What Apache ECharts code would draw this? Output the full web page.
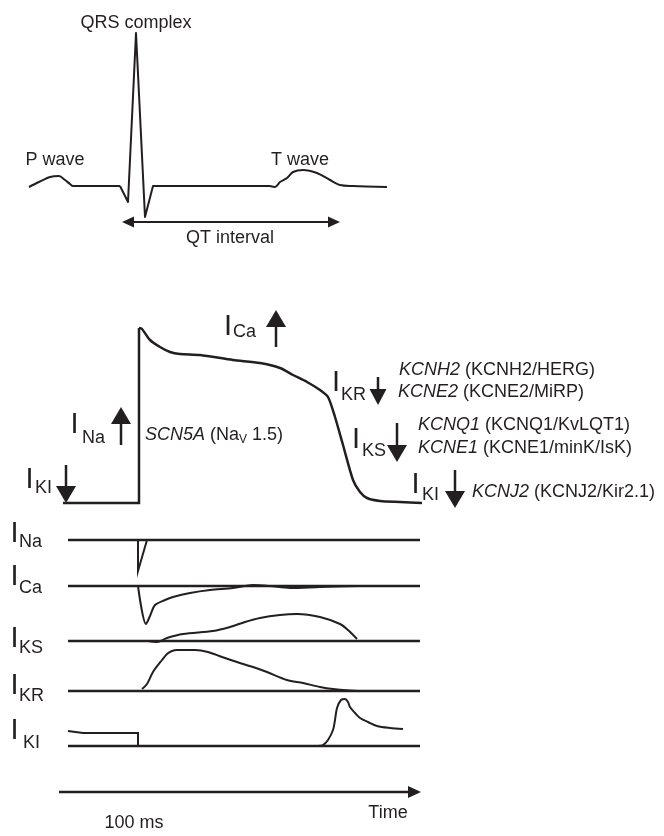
<!DOCTYPE html>
<html><head><meta charset="utf-8">
<script src="https://cdn.jsdelivr.net/npm/echarts@6/dist/echarts.min.js"></script>
<style>html,body{margin:0;padding:0;background:#fff}#c{width:664px;height:836px}</style>
</head><body><div id="c"></div>
<script>
// ---------------- DATA ----------------
// ECG trace: [time unit, amplitude unit] (baseline = 0)
const ecgP   = [[0,-1],[10,4],[21,9],[30,10],[36,6],[41,2],[44,0],[91,0]];
const ecgQRS = [[91,0],[99,-16],[107,153],[116,-31],[124,0],[241,0]];
const ecgT   = [[241,0],[246,-1],[251,4],[258,8],[264,14],[274,16],[288,13],[301,6],[311,1],[324,0],[358,-1]];

// Ventricular action potential: [time, amplitude above resting level]
const apUpstroke = [[0,0],[76,0],[76,175]];
const apRepol = [[76,175],[79,174],[87,163],[97,156],[107,151],[117,149],[137,148],[170,143],[197,140],
  [217,135],[230,128],[244,121],[257,113],[265,106],[272,86],[280,58],[290,23],[297,11],[304,5],
  [317,2],[337,1],[359,0]];

// Ionic currents (baseline = 0, outward positive, inward negative)
const currentSpan = [5, 357];
const currentNames = ['Na','Ca','KS','KR','KI'];
const iNa = [[75,0],[75,-31],[84,0]];
const iCa = [[75,0],[83,-38],[87,-30],[92,-19],[102,-14],[110,-11],[127,-7],[147,-4],[170,-2],[190,1],
  [207,0],[227,-2],[257,-1],[295,0]];
const iKs = [[85,0],[94,-1],[104,3],[120,7],[150,10],[167,14],[182,19],[197,23],[217,26],[234,27],
  [257,24],[277,17],[285,11],[294,2]];
const iKr = [[79,2],[84,7],[90,19],[99,31],[104,37],[109,40],[114,41],[132,41],[145,39],[159,34],
  [174,29],[190,24],[204,19],[224,11],[240,8],[257,4],[270,2],[295,0]];
const iKiRest  = [[5,15],[20,13],[75,13],[75,0]];
const iKiRepol = [[255,0],[260,1],[265,6],[270,16],[272,26],[274,38],[278,46],[282,47],[285,44],
  [287,39],[292,33],[297,28],[305,24],[314,20],[327,18],[340,17]];

// ---------------- LAYOUT / STYLE ----------------
const INK = '#231f20';
const FF = '"Liberation Sans", Arial, Helvetica, sans-serif';
const LW = 2.2;
const currentBaselines = [540, 586, 641, 691, 746];

const grids = [
  {left: 29, top: 26, width: 360, height: 200},   // 0 ECG
  {left: 63, top: 323, width: 360, height: 180}   // 1 AP
];
currentBaselines.forEach(b => grids.push({left: 63, top: b - 50, width: 360, height: 90}));

const xAxes = grids.map((g, i) => ({gridIndex: i, type: 'value', min: 0, max: 360, show: false}));
const yAxes = grids.map((g, i) => {
  if (i === 0) return {gridIndex: i, type: 'value', min: -40, max: 160, show: false};
  if (i === 1) return {gridIndex: i, type: 'value', min: 0, max: 180, show: false};
  return {gridIndex: i, type: 'value', min: -40, max: 50, show: false};
});

function line(name, data, gi, smooth, width, join) {
  return {
    name, type: 'line', data, xAxisIndex: gi, yAxisIndex: gi,
    showSymbol: false, symbol: 'none', smooth: smooth || false, clip: false,
    lineStyle: {color: INK, width: width || LW, join: join || 'round', cap: 'butt'},
    silent: true
  };
}

const series = [
  line('ECG P', ecgP, 0, 0.3, 2),
  line('ECG QRS', ecgQRS, 0, false, 2, 'round'),
  line('ECG T', ecgT, 0, 0.3, 2),
  line('AP upstroke', apUpstroke, 1, false, 2.5, 'miter'),
  line('AP repolarisation', apRepol, 1, 0.25, 2.5)
];
const currentTraces = [[iNa], [iCa], [iKs], [iKr], [iKiRest, iKiRepol]];
currentTraces.forEach((traces, k) => {
  const gi = k + 2;
  series.push(line('I' + currentNames[k] + ' baseline', [[currentSpan[0],0],[currentSpan[1],0]], gi, false, 2.5));
  traces.forEach((d, j) => {
    const sm = (k === 0 || (k === 4 && j === 0)) ? false : 0.3;
    series.push(line('I' + currentNames[k] + ' ' + j, d, gi, sm, 2, 'miter'));
  });
});

// ---------------- ANNOTATIONS ----------------
const G = [];
function txt(x, y, text, size, align, extra) {
  const st = Object.assign({
    x, y, text, fill: INK, fontFamily: FF, fontSize: size,
    textAlign: align, align: align, textVerticalAlign: 'middle', verticalAlign: 'middle'
  }, extra || {});
  G.push({type: 'text', silent: true, style: st});
}
function currentLabel(ix, iy, sx, sy, sub) {
  txt(ix, iy, 'I', 29, 'center');
  txt(sx, sy, sub, 18, 'left');
}
function vArrow(x, yTail, yTip, hw, hl) {
  hw = hw || 10; hl = hl || 17;
  const dir = yTip > yTail ? 1 : -1;
  G.push({type: 'line', silent: true, shape: {x1: x, y1: yTail, x2: x, y2: yTip - dir * hl * 0.6},
    style: {stroke: INK, lineWidth: 2.5}});
  G.push({type: 'polygon', silent: true,
    shape: {points: [[x - hw, yTip - dir * hl], [x + hw, yTip - dir * hl], [x, yTip]]},
    style: {fill: INK}});
}
const rich = {
  i: {fontStyle: 'italic', fontSize: 18, fontFamily: FF, fill: INK, color: INK, lineHeight: 22},
  n: {fontSize: 18, fontFamily: FF, fill: INK, color: INK, lineHeight: 22},
  s: {fontSize: 12, fontFamily: FF, fill: INK, color: INK, lineHeight: 12, verticalAlign: 'bottom'}
};
function gene(x, y, it, rest) {
  txt(x, y, '{i|' + it + '}{n|' + rest + '}', 18, 'left', {rich});
}

// ECG labels
txt(136, 23, 'QRS complex', 18, 'center');
txt(55, 160, 'P wave', 18, 'center');
txt(300, 160, 'T wave', 18, 'center');
txt(230, 238, 'QT interval', 18, 'center');
G.push({type: 'line', silent: true, shape: {x1: 128, y1: 222, x2: 334, y2: 222}, style: {stroke: INK, lineWidth: 2}});
G.push({type: 'polygon', silent: true, shape: {points: [[122,222],[134,216.5],[134,227.5]]}, style: {fill: INK}});
G.push({type: 'polygon', silent: true, shape: {points: [[340,222],[328,216.5],[328,227.5]]}, style: {fill: INK}});

// AP labels and arrows
currentLabel(29.5, 479.5, 35, 488.5, 'KI');  vArrow(66, 465, 503);
currentLabel(74.5, 425, 82, 438.5, 'Na');    vArrow(121, 445, 407);
currentLabel(228, 327, 233, 332.5, 'Ca');    vArrow(276, 347, 310);
currentLabel(336, 383, 341, 395.5, 'KR');    vArrow(378, 377, 405, 8.5, 16);
currentLabel(356, 440, 362, 451.5, 'KS');    vArrow(397, 423, 462);
currentLabel(415.5, 485, 422, 495.5, 'KI');  vArrow(455, 470, 508);

txt(145, 435, '{i|SCN5A}{n| (Na}{s|V}{n| 1.5)}', 18, 'left', {rich});
gene(399, 370, 'KCNH2', ' (KCNH2/HERG)');
gene(398, 392, 'KCNE2', ' (KCNE2/MiRP)');
gene(418, 425, 'KCNQ1', ' (KCNQ1/KvLQT1)');
gene(418, 448, 'KCNE1', ' (KCNE1/minK/IsK)');
gene(472, 492, 'KCNJ2', ' (KCNJ2/Kir2.1)');

// current trace labels
const curLabelY = [[533.5, 542.5], [577, 588.5], [639, 648.5], [686, 696.5], [731, 743.5]];
currentNames.forEach((n, k) => currentLabel(14.5, curLabelY[k][0], k === 4 ? 23 : 19, curLabelY[k][1], n));

// time arrow
G.push({type: 'line', silent: true, shape: {x1: 59, y1: 792, x2: 412, y2: 792}, style: {stroke: INK, lineWidth: 2.5}});
G.push({type: 'polygon', silent: true, shape: {points: [[421,792],[408,786],[408,798]]}, style: {fill: INK}});
txt(388, 813, 'Time', 18, 'center');
txt(134, 823, '100 ms', 18, 'center');

const chart = echarts.init(document.getElementById('c'), null, {renderer: 'canvas'});
chart.setOption({
  animation: false,
  backgroundColor: '#ffffff',
  grid: grids,
  xAxis: xAxes,
  yAxis: yAxes,
  series,
  graphic: {elements: G}
});
</script>
</body></html>
